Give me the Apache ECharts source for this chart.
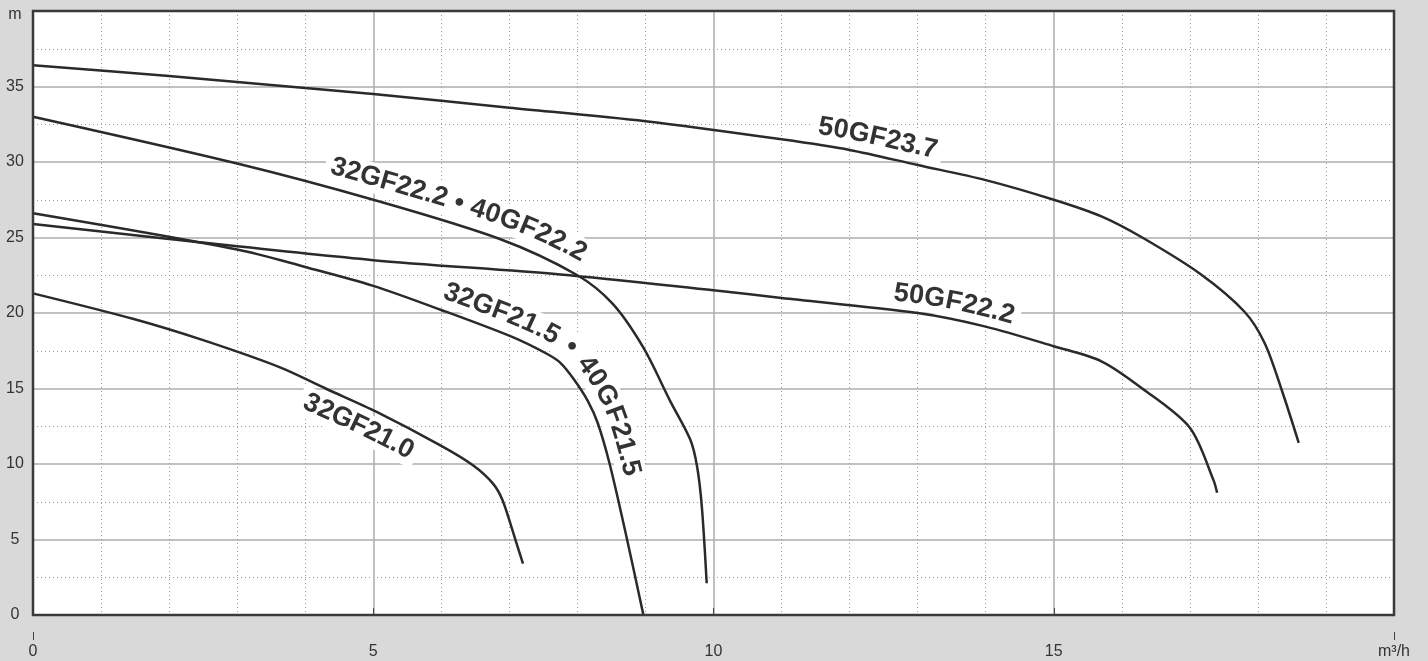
<!DOCTYPE html>
<html><head><meta charset="utf-8">
<script src="https://cdn.jsdelivr.net/npm/echarts@6/dist/echarts.min.js"></script>
<style>html,body{margin:0;padding:0;background:#d9d9d9;}#c{width:1428px;height:661px;}</style>
</head><body><div id="c"></div>
<script>
// ---- data (flow m³/h, head m) ----
const xTickValues = [0, 5, 10, 15, 20];
const yTickValues = [0, 5, 10, 15, 20, 25, 30, 35, 40];
const xUnit = 'm³/h';
const yUnit = 'm';

const curve50GF237 = [[0,36.4],[2,35.7],[4,34.9],[5,34.5],[7,33.6],[9,32.7],[11,31.5],[12,30.8],[13,29.8],[14,28.8],[15,27.5],[15.7,26.4],[16.3,25.0],[17.15,22.6],[17.8,20.1],[18.1,18.0],[18.35,14.9],[18.6,11.4]];
const curve50GF222 = [[0,25.9],[2,24.9],[5,23.5],[7.75,22.55],[10,21.5],[11,21.0],[13,20.0],[14,19.1],[15,17.8],[15.7,16.8],[16.3,15.0],[17.0,12.4],[17.35,8.9],[17.4,8.1]];
const curve32GF222 = [[0,33.0],[3,29.9],[5,27.5],[6.86,24.9],[8,22.5],[8.52,20.6],[8.97,17.7],[9.36,14.2],[9.66,11.6],[9.76,9.8],[9.83,7.1],[9.9,2.1]];
const curve32GF215 = [[0,26.6],[3,24.2],[4,23.05],[5,21.8],[6,20.2],[7.05,18.4],[7.55,17.3],[7.75,16.7],[7.95,15.6],[8.15,14.2],[8.3,12.7],[8.48,9.9],[8.73,5.0],[8.97,0]];
const curve32GF210 = [[0,21.3],[1.48,19.6],[2.5,18.2],[3.63,16.4],[4.3,15.0],[5.05,13.45],[6.0,11.2],[6.47,9.9],[6.76,8.7],[6.9,7.6],[7.06,5.4],[7.2,3.4]];

const seriesNames = ['50GF23.7', '50GF22.2', '32GF22.2 • 40GF22.2', '32GF21.5 • 40GF21.5', '32GF21.0'];
const seriesData = [curve50GF237, curve50GF222, curve32GF222, curve32GF215, curve32GF210];

// ---- label placement (styling, not data) ----
const labelPlacement = [
  {startQ: 11.5, off: 18},
  {startQ: 12.62, off: 17},
  {startQ: 4.3, off: 21},
  {startQ: 5.95, off: 19},
  {startQ: 4.12, off: -20}
];
const FONT = 'bold 27px "Liberation Sans", Arial, sans-serif';
const LINE_COLOR = '#2a2a2a';
const TEXT_COLOR = '#333333';

const chart = echarts.init(document.getElementById('c'), null, {renderer: 'canvas'});
const grid = {left: 33, right: 34, top: 11, bottom: 46};

chart.setOption({
  animation: false,
  backgroundColor: '#d9d9d9',
  grid: Object.assign({show: true, backgroundColor: '#ffffff', borderWidth: 0}, grid),
  xAxis: [{
    type: 'value', min: xTickValues[0], max: xTickValues[xTickValues.length - 1], interval: 5,
    position: 'bottom', offset: 17,
    axisLine: {show: true, lineStyle: {color: '#666', width: 1.5}},
    axisTick: {show: true, inside: true, length: 7, lineStyle: {color: '#444', width: 1}},
    axisLabel: {color: '#333', fontSize: 16, margin: 12, fontFamily: 'Liberation Sans, Arial, sans-serif',
      formatter: v => v === 20 ? xUnit : String(v)},
    splitLine: {show: true, lineStyle: {color: '#acacac', width: 1.5}},
    minorTick: {show: false, splitNumber: 5},
    minorSplitLine: {show: true, lineStyle: {color: '#9a9a9a', width: 1, type: [1, 3]}}
  }, {
    type: 'value', min: 0, max: 20, interval: 20, position: 'bottom', offset: 17,
    axisLine: {show: false}, axisLabel: {show: false}, splitLine: {show: false},
    axisTick: {show: true, inside: false, length: 8, lineStyle: {color: '#444', width: 1}}
  }],
  yAxis: {
    type: 'value', min: yTickValues[0], max: yTickValues[yTickValues.length - 1], interval: 5,
    axisLine: {show: false}, axisTick: {show: false},
    axisLabel: {color: '#333', fontSize: 16, margin: 18, align: 'center', fontFamily: 'Liberation Sans, Arial, sans-serif',
      formatter: v => v === 40 ? '{u|' + yUnit + '}' : String(v),
      rich: {u: {fontSize: 16, color: '#333', padding: [8, 0, 0, 0], fontFamily: 'Liberation Sans, Arial, sans-serif'}}},
    splitLine: {show: true, lineStyle: {color: '#acacac', width: 1.5}},
    minorTick: {show: false, splitNumber: 2},
    minorSplitLine: {show: true, lineStyle: {color: '#9a9a9a', width: 1, type: [1, 3]}}
  },
  series: seriesData.map((d, i) => ({
    name: seriesNames[i], type: 'line', data: d, xAxisIndex: 0,
    smooth: 0.3, showSymbol: false, symbol: 'none', z: 2,
    lineStyle: {color: LINE_COLOR, width: 2.5}, silent: true
  }))
});

// ---- curved labels following each curve ----
function densify(p, n) {
  const out = [];
  for (let i = 0; i < p.length - 1; i++) {
    const p0 = p[Math.max(i - 1, 0)], p1 = p[i], p2 = p[i + 1], p3 = p[Math.min(i + 2, p.length - 1)];
    for (let k = 0; k < n; k++) {
      const t = k / n, t2 = t * t, t3 = t2 * t;
      const f = (a, b, c, d) => 0.5 * ((2 * b) + (-a + c) * t + (2 * a - 5 * b + 4 * c - d) * t2 + (-a + 3 * b - 3 * c + d) * t3);
      out.push([f(p0[0], p1[0], p2[0], p3[0]), f(p0[1], p1[1], p2[1], p3[1])]);
    }
  }
  out.push(p[p.length - 1]);
  return out;
}
const measureCtx = document.createElement('canvas').getContext('2d');
measureCtx.font = FONT;

const elements = [];
seriesData.forEach((d, i) => {
  const cfg = labelPlacement[i];
  const pts = densify(d.map(p => chart.convertToPixel({gridIndex: 0}, p)), 12);
  const cum = [0];
  for (let k = 1; k < pts.length; k++) cum.push(cum[k - 1] + Math.hypot(pts[k][0] - pts[k - 1][0], pts[k][1] - pts[k - 1][1]));
  const total = cum[cum.length - 1];
  const at = s => {
    s = Math.max(0, Math.min(total, s));
    let k = 1; while (k < cum.length - 1 && cum[k] < s) k++;
    const seg = cum[k] - cum[k - 1] || 1, t = (s - cum[k - 1]) / seg;
    return [pts[k - 1][0] + (pts[k][0] - pts[k - 1][0]) * t, pts[k - 1][1] + (pts[k][1] - pts[k - 1][1]) * t];
  };
  const startX = chart.convertToPixel({gridIndex: 0}, [cfg.startQ, 0])[0];
  let s0 = 0;
  for (let k = 1; k < pts.length; k++) {
    if (pts[k][0] >= startX) {
      const t = (startX - pts[k - 1][0]) / ((pts[k][0] - pts[k - 1][0]) || 1);
      s0 = cum[k - 1] + (cum[k] - cum[k - 1]) * t; break;
    }
  }
  const frame = s => {
    const p = at(s), a = at(s - 10), b = at(s + 10);
    let dx = b[0] - a[0], dy = b[1] - a[1]; const L = Math.hypot(dx, dy) || 1; dx /= L; dy /= L;
    return {x: p[0] + dy * cfg.off, y: p[1] - dx * cfg.off, ang: Math.atan2(dy, dx)};
  };
  let s = s0;
  const text = seriesNames[i];
  const chars = [];
  for (const ch of text) {
    const w = measureCtx.measureText(ch).width;
    const f = frame(s + w / 2);
    chars.push({type: 'text', x: f.x, y: f.y, rotation: -f.ang, z: 5, silent: true,
      style: {text: ch, font: FONT, fill: TEXT_COLOR, align: 'center', verticalAlign: 'middle'}});
    s += w;
  }
  const band = [];
  for (let b = s0 - 6; b <= s + 6; b += 3) { const f = frame(b); band.push([f.x, f.y]); }
  elements.push({type: 'polyline', z: 1, silent: true, shape: {points: band},
    style: {stroke: '#ffffff', lineWidth: 30, fill: null, lineCap: 'butt', lineJoin: 'round'}});
  elements.push(...chars);
});

// plot frame
const tl = chart.convertToPixel({gridIndex: 0}, [0, 40]);
const br = chart.convertToPixel({gridIndex: 0}, [20, 0]);
elements.push({type: 'rect', z: 10, silent: true,
  shape: {x: tl[0], y: tl[1], width: br[0] - tl[0], height: br[1] - tl[1]},
  style: {fill: null, stroke: '#3a3a3a', lineWidth: 2.5}});

chart.setOption({graphic: {elements: elements}});
</script>
</body></html>
